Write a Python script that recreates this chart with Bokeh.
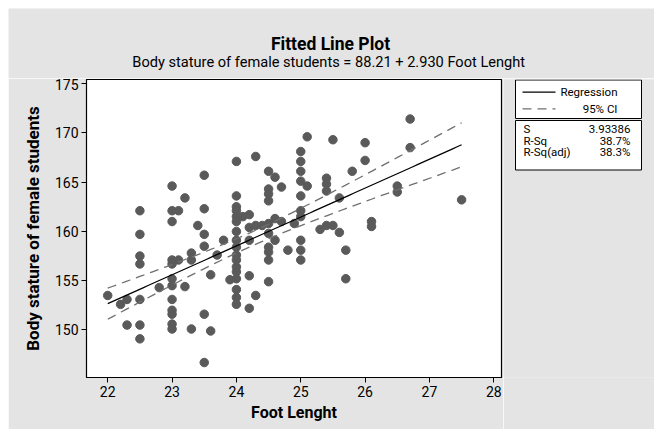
import numpy as np
from bokeh.plotting import figure
from bokeh.models import FixedTicker, Range1d, Spacer
from bokeh.layouts import column, row
from bokeh.core.properties import value
from bokeh.embed import file_html
from bokeh.resources import INLINE

# ---- data ----
foot = [
    22.0,
    22.2,
    22.3, 22.3,
    22.5, 22.5, 22.5, 22.5, 22.5, 22.5, 22.5,
    22.8,
    23.0, 23.0, 23.0, 23.0, 23.0, 23.0, 23.0, 23.0, 23.0, 23.0, 23.0, 23.0,
    23.1, 23.1,
    23.2, 23.2,
    23.3, 23.3, 23.3,
    23.4,
    23.5, 23.5, 23.5, 23.5, 23.5, 23.5,
    23.6, 23.6,
    23.7,
    23.8,
    23.9,
    24.0, 24.0, 24.0, 24.0, 24.0, 24.0, 24.0, 24.0, 24.0, 24.0, 24.0, 24.0,
    24.0, 24.0, 24.0, 24.0, 24.0,
    24.1,
    24.2, 24.2, 24.2, 24.2, 24.2,
    24.3, 24.3, 24.3,
    24.4,
    24.5, 24.5, 24.5, 24.5, 24.5, 24.5, 24.5, 24.5, 24.5, 24.5,
    24.6, 24.6, 24.6,
    24.7, 24.7,
    24.8,
    24.9,
    25.0, 25.0, 25.0, 25.0, 25.0, 25.0, 25.0, 25.0, 25.0, 25.0,
    25.1, 25.1,
    25.3,
    25.4, 25.4, 25.4, 25.4,
    25.5, 25.5,
    25.6, 25.6,
    25.7, 25.7,
    25.8,
    26.0, 26.0,
    26.1, 26.1,
    26.5, 26.5,
    26.7, 26.7,
    27.5,
]
stature = [
    153.5,
    152.6,
    153.1, 150.5,
    162.1, 159.7, 157.5, 156.7, 153.1, 150.5, 149.1,
    154.3,
    164.6, 162.1, 161.0, 157.1, 156.7, 155.2, 154.5, 153.1, 152.0, 151.6, 150.6, 150.1,
    162.1, 157.1,
    163.4, 154.4,
    157.8, 157.1, 150.1,
    160.6,
    165.7, 162.3, 159.7, 158.5, 151.6, 146.7,
    155.6, 149.9,
    157.6,
    159.1,
    155.1,
    167.1, 163.6, 162.5, 162.1, 161.5, 161.0, 160.0, 159.1, 158.4, 157.6, 157.1, 156.4,
    155.9, 155.2, 154.1, 153.3, 152.6,
    161.5,
    161.7, 160.4, 159.1, 155.5, 152.2,
    167.6, 160.6, 153.5,
    160.6,
    166.1, 164.3, 163.8, 163.1, 160.8, 159.8, 158.4, 157.9, 157.1, 154.9,
    165.5, 161.3, 159.1,
    164.5, 161.0,
    158.1,
    160.8,
    168.1, 167.1, 166.1, 165.1, 163.6, 162.1, 161.5, 159.1, 158.1, 157.1,
    169.6, 164.6,
    160.2,
    165.4, 164.8, 164.1, 160.6,
    169.3, 160.6,
    163.4, 159.9,
    158.1, 155.2,
    166.1,
    169.0, 167.2,
    161.0, 160.5,
    164.6, 164.0,
    171.4, 168.5,
    163.2,
]
intercept = 88.21
slope = 2.930
s_value = 3.93386
t_crit = 1.98
x_ticks = [22, 23, 24, 25, 26, 27, 28]
y_ticks = [150, 155, 160, 165, 170, 175]
legend_names = ["Regression", "95% CI"]
stat_names = ["S", "R-Sq", "R-Sq(adj)"]
stat_values = ["3.93386", "38.7%", "38.3%"]
title_text = "Fitted Line Plot"
subtitle_text = "Body stature of female students =  88.21 + 2.930 Foot Lenght"
x_label = "Foot Lenght"
y_label = "Body stature of female students"

FONT = "Roboto"
BG = "#e4e4e4"
DOT = "#5a5a5a"
CI_COLOR = "#707070"
CI_DASH = "9 6"

BORDER_TOP = 1
BORDER_BOTTOM = 52
FRAME_H = 298


def blank_fig(w, h, fh, top=0, bottom=0):
    f = figure(width=w, height=h, x_range=Range1d(0, w), y_range=Range1d(0, fh),
               output_backend="svg", toolbar_location=None,
               x_axis_type=None, y_axis_type=None,
               min_border_left=0, min_border_right=0,
               min_border_top=top, min_border_bottom=bottom)
    f.grid.visible = False
    f.outline_line_color = None
    f.background_fill_color = BG
    f.border_fill_color = BG
    return f


# ---------------- header (title + subtitle) ----------------
header = blank_fig(646, 70, 70)
header.text(x=[322], y=[34.7], text=[title_text], text_align="center",
            text_baseline="alphabetic", text_font=value(FONT),
            text_font_style="bold", text_font_size="17.5px", text_color="black")
header.text(x=[322], y=[16.3], text=[subtitle_text], text_align="center",
            text_baseline="alphabetic", text_font=value(FONT),
            text_font_size="14.6px", text_color="black")

# ---------------- main plot ----------------
p = figure(width=495, height=BORDER_TOP + FRAME_H + BORDER_BOTTOM,
           x_range=Range1d(21.67, 28.12), y_range=Range1d(145.18, 175.41),
           output_backend="svg", toolbar_location=None,
           min_border_left=78, min_border_right=2,
           min_border_top=BORDER_TOP, min_border_bottom=BORDER_BOTTOM)
p.background_fill_color = "white"
p.border_fill_color = BG
p.outline_line_color = "black"
p.outline_line_width = 1.2
p.grid.visible = False

p.xaxis.ticker = FixedTicker(ticks=x_ticks)
p.yaxis.ticker = FixedTicker(ticks=y_ticks)
p.xaxis.axis_label = x_label
p.yaxis.axis_label = y_label
for ax in (p.xaxis[0], p.yaxis[0]):
    ax.major_tick_out = 5
    ax.major_tick_in = 0
    ax.minor_tick_out = 0
    ax.minor_tick_in = 0
    ax.major_tick_line_color = "black"
    ax.axis_line_color = "black"
    ax.major_label_text_font = FONT
    ax.major_label_text_font_size = "14px"
    ax.major_label_text_color = "black"
    ax.major_label_standoff = 3
    ax.axis_label_text_font = FONT
    ax.axis_label_text_font_style = "bold"
    ax.axis_label_text_font_size = "16px"
    ax.axis_label_text_color = "black"
p.yaxis.axis_label_text_font_size = "17px"
p.xaxis.axis_label_standoff = 3
p.yaxis.axis_label_standoff = 9

p.scatter(foot, stature, size=8.5, color=DOT, line_color=DOT)

# fitted line and 95% CI computed from the data
fx = np.array(foot)
n = len(fx)
xbar = fx.mean()
sxx = ((fx - xbar) ** 2).sum()
xg = np.linspace(fx.min(), fx.max(), 80)
fit = intercept + slope * xg
half = t_crit * s_value * np.sqrt(1.0 / n + (xg - xbar) ** 2 / sxx)
p.line(xg, fit, line_color="black", line_width=1.2)
p.line(xg, fit + half, line_color=CI_COLOR, line_width=1.3, line_dash=CI_DASH)
p.line(xg, fit - half, line_color=CI_COLOR, line_width=1.3, line_dash=CI_DASH)

# ---------------- legend panel (same frame rows as the plot) ----------------
leg = blank_fig(151, BORDER_TOP + FRAME_H + BORDER_BOTTOM, FRAME_H,
                top=BORDER_TOP, bottom=BORDER_BOTTOM)
leg.quad(left=[12, 12], right=[138, 138], top=[297.5, 257], bottom=[259, 207.5],
         fill_color="white", line_color="black", line_width=1)
leg.line([19, 52], [285.3, 285.3], line_color="black", line_width=1.2)
leg.line([19, 52], [268.7, 268.7], line_color=CI_COLOR, line_width=1.3, line_dash=CI_DASH)
leg.text(x=[114, 114], y=[285.3, 268.7], text=legend_names, text_align="right",
         text_baseline="middle", text_font=value(FONT), text_font_size="11.5px",
         text_color="black")
stat_y = [248.7, 236.3, 225.3]
leg.text(x=[20, 20, 20], y=stat_y, text=stat_names, text_align="left",
         text_baseline="middle", text_font=value(FONT), text_font_size="11.5px",
         text_color="black")
leg.text(x=[127, 127, 127], y=stat_y, text=stat_values, text_align="right",
         text_baseline="middle", text_font=value(FONT), text_font_size="11.5px",
         text_color="black")

layout = column(
    Spacer(width=654, height=8),
    row(Spacer(width=8, height=421), column(header, row(p, leg))),
)

open("out.html", "w").write(file_html(layout, INLINE))
